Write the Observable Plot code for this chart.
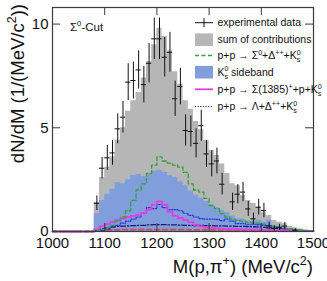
<!DOCTYPE html>
<html><head><meta charset="utf-8">
<script src="https://cdn.jsdelivr.net/npm/d3@7"></script>
<script src="https://cdn.jsdelivr.net/npm/@observablehq/plot@0.6"></script>
<style>body{margin:0;background:#fff} #chart svg{display:block}</style>
</head><body><div id="chart"></div>
<script>
// Invariant-mass spectrum M(p,pi+), 10 MeV/c^2 bins, lower bin edges
const binLow = [1080,1090,1100,1110,1120,1130,1140,1150,1160,1170,1180,1190,1200,1210,
  1220,1230,1240,1250,1260,1270,1280,1290,1300,1310,1320,1330,1340,1350,1360,1370,
  1380,1390,1400,1410,1420,1430,1440,1450,1460,1470,1480,1490];
const binWidth = 10;

// measured yield per bin (null = no entry) and its statistical error
const dataValue = [1.36,3.05,3.55,3.79,4.95,5.51,7.2,7.28,7.79,7.08,8.11,9.29,9.29,8.4,
  8.64,6.4,6.99,4.87,4.82,4.25,5.1,3.74,3.26,3.4,2.28,null,1.43,1.8,1.9,1.09,
  0.61,1.17,1.01,0.27,0.14,0.2,0.26,null,0.06,null,null,null];
const dataError = [0.35,0.52,0.6,0.6,0.72,0.76,0.89,0.89,0.92,0.88,0.95,1.0,1.0,0.95,
  0.96,0.85,0.88,0.75,0.75,0.7,0.75,0.65,0.62,0.62,0.52,null,0.42,0.46,0.47,0.36,
  0.28,0.38,0.35,0.18,0.13,0.15,0.18,null,0.08,null,null,null];

// model components
const sumOfContributions = [1.4,2.6,3.1,3.6,4.4,5.0,5.8,6.3,6.7,7.4,8.2,9.0,9.8,9.4,
  8.7,7.7,7.1,6.3,5.9,5.3,4.9,4.4,3.9,3.66,3.26,2.8,2.3,2.2,1.73,1.5,
  1.35,1.17,0.93,0.77,0.53,0.45,0.37,0.24,0.18,0.12,0.08,0.05];
const k0sSideband = [0.85,1.5,1.8,2.05,2.35,2.3,2.5,2.7,2.75,2.65,2.8,2.9,2.95,2.85,
  2.7,2.6,2.4,2.2,1.95,1.75,1.6,1.45,1.3,1.15,1.0,0.9,0.75,0.62,0.6,0.5,
  0.5,0.55,0.45,0.55,0.3,0.25,0.2,0.15,0.1,0.08,0.05,0.03];
const sigma0DeltaK0 = [0.05,0.1,0.2,0.3,0.5,0.7,1.0,1.5,2.0,2.3,2.8,3.2,3.6,3.4,
  3.3,3.2,3.1,2.85,2.3,2.0,1.9,1.6,1.25,1.1,0.86,0.7,0.6,0.53,0.5,0.45,
  0.42,0.4,0.35,0.3,0.25,0.2,0.15,0.12,0.08,0.05,0.03,0.02];
const sigma1385pK0 = [0.1,0.25,0.35,0.45,0.55,0.62,0.7,0.75,0.8,0.9,1.05,1.3,1.45,1.3,
  0.95,0.75,0.65,0.55,0.45,0.32,0.25,0.2,0.18,0.15,0.13,0.12,0.12,0.11,0.1,0.1,
  0.09,0.09,0.08,0.08,0.07,0.06,0.06,0.05,0.04,0.03,0.02,0.02];
const lambdaDeltaK0 = [0.02,0.05,0.1,0.2,0.3,0.4,0.5,0.6,0.7,0.9,1.15,1.1,1.3,1.15,
  1.05,1.05,1.0,0.88,0.78,0.7,0.62,0.6,0.6,0.58,0.52,0.6,0.5,0.38,0.38,0.35,
  0.35,0.33,0.3,0.28,0.22,0.18,0.14,0.1,0.07,0.05,0.03,0.02];
const otherChannelA = [0.05,0.12,0.18,0.22,0.25,0.26,0.27,0.28,0.3,0.3,0.32,0.33,0.33,0.33,
  0.32,0.32,0.31,0.3,0.3,0.29,0.29,0.28,0.28,0.27,0.27,0.26,0.26,0.25,0.25,0.24,
  0.23,0.22,0.2,0.18,0.16,0.14,0.12,0.09,0.07,0.05,0.03,0.02];
const otherChannelB = [0.03,0.05,0.07,0.08,0.08,0.09,0.09,0.09,0.09,0.09,0.09,0.09,0.09,0.09,
  0.09,0.09,0.09,0.09,0.08,0.08,0.08,0.08,0.08,0.08,0.08,0.07,0.07,0.07,0.07,0.07,
  0.06,0.06,0.06,0.06,0.05,0.05,0.05,0.04,0.04,0.03,0.02,0.02];

const xTicks = [1000,1100,1200,1300,1400,1500];
const yTicks = [0,5,10];
const xDomain = [1000,1500];
const yDomain = [0,10.8];

// step-histogram points: one per lower edge, closing point at the upper edge
function steps(values, lead) {
  const pts = binLow.map((x, i) => ({x, y: values[i]}));
  pts.push({x: binLow[binLow.length-1] + binWidth, y: values[values.length-1]});
  if (lead) pts.unshift({x: xDomain[0], y: 0}, {x: binLow[0], y: 0});
  return pts;
}
const points = binLow.map((lo, i) => ({lo, hi: lo + binWidth, c: lo + binWidth/2, v: dataValue[i], e: dataError[i]}))
  .filter(d => d.v != null);

const W = 327, H = 281, mL = 52, mR = 14, mT = 7, mB = 50;
const innerW = W - mL - mR, innerH = H - mT - mB, tickLen = 8;
const frameColor = "#3a3a3a";

const lineStyles = [
  {values: otherChannelB, stroke: "#d04a4a", strokeWidth: 1.6, strokeDasharray: "5,3"},
  {values: otherChannelA, stroke: "#1a1a70", strokeWidth: 1.3, strokeDasharray: "5,2,1.5,2"},
  {values: lambdaDeltaK0, stroke: "#2a36d6", strokeWidth: 1.2, strokeDasharray: "1.2,1.4"},
  {values: sigma1385pK0, stroke: "#e23ee6", strokeWidth: 1.8, strokeDasharray: null},
  {values: sigma0DeltaK0, stroke: "#35a03a", strokeWidth: 1.3, strokeDasharray: "4,2.5"}
];

const svg = Plot.plot({
  width: W, height: H,
  marginLeft: mL, marginRight: mR, marginTop: mT, marginBottom: mB,
  x: {domain: xDomain},
  y: {domain: yDomain},
  style: {fontFamily: "'Liberation Sans', Arial, sans-serif", fontSize: "15px", background: "#fff", color: "#111"},
  marks: [
    Plot.areaY(steps(sumOfContributions), {x: "x", y: "y", curve: "step-after", fill: "#b6b6b6"}),
    Plot.areaY(steps(k0sSideband), {x: "x", y: "y", curve: "step-after", fill: "#7f9edb"}),
    ...lineStyles.map(s => Plot.line(steps(s.values, true), {x: "x", y: "y", curve: "step-after",
      stroke: s.stroke, strokeWidth: s.strokeWidth, strokeDasharray: s.strokeDasharray})),
    Plot.ruleX(points, {x: "c", y1: d => d.v - d.e, y2: d => d.v + d.e, stroke: "#111", strokeWidth: 1}),
    Plot.ruleY(points, {y: "v", x1: "lo", x2: "hi", stroke: "#111", strokeWidth: 1}),
    // inward ticks on all four sides
    Plot.tickX(xTicks, {x: d => d, insetTop: innerH - tickLen, stroke: frameColor}),
    Plot.tickX(xTicks, {x: d => d, insetBottom: innerH - tickLen, stroke: frameColor}),
    Plot.tickY(yTicks, {y: d => d, insetRight: innerW - tickLen, stroke: frameColor}),
    Plot.tickY(yTicks, {y: d => d, insetLeft: innerW - tickLen, stroke: frameColor}),
    Plot.axisX({ticks: xTicks, tickSize: 0, tickPadding: 6, label: null, tickFormat: d => String(d)}),
    Plot.axisY({ticks: yTicks, tickSize: 0, tickPadding: 4, label: null}),
    Plot.frame({stroke: frameColor, strokeWidth: 1.2})
  ]
});
document.getElementById("chart").appendChild(svg);

// text with superscripts / stacked super+subscripts
function richText(g, x, y, parts, size, anchor) {
  const t = g.append("text").attr("x", x).attr("y", y).attr("font-size", size)
    .attr("text-anchor", anchor || "start").attr("fill", "#111");
  let cur = 0;
  const small = size * 0.68;
  for (const p of parts) {
    if (typeof p === "string") {
      t.append("tspan").attr("dy", -cur).text(p); cur = 0;
    } else if (p.sup && p.sub) {
      const up = -0.42 * size, down = 0.28 * size;
      t.append("tspan").attr("dy", up - cur).attr("font-size", small).text(p.sup);
      t.append("tspan").attr("dx", -small * 0.556 * p.sup.length).attr("dy", down - up)
        .attr("font-size", small).text(p.sub);
      cur = down;
    } else if (p.sup) {
      const up = -0.42 * size;
      t.append("tspan").attr("dy", up - cur).attr("font-size", small).text(p.sup); cur = up;
    }
  }
  return t;
}

const root = d3.select(svg).append("g")
  .attr("font-family", "'Liberation Sans', Arial, sans-serif");

// axis titles
richText(root, 313, 273, ["M(p,\u03c0", {sup: "+"}, ") (MeV/c", {sup: "2"}, ")"], 18.5, "end");
const yt = root.append("g").attr("transform", "translate(23.5,4) rotate(-90)");
richText(yt, 0, 0, ["dN/dM (1/(MeV/c", {sup: "2"}, "))"], 18.5, "end");

// selection label
richText(root, 70, 30.5, ["\u03a3", {sup: "0"}, "-Cut"], 11.5, "start");

// legend
const lg = root.append("g");
const symX0 = 195, symX1 = 213, txtX = 217.5, fs = 10.5;
const rows = [
  {y: 22.7, kind: "data", label: ["experimental data"]},
  {y: 39.7, kind: "box", fill: "#b6b6b6", label: ["sum of contributions"]},
  {y: 55.5, kind: "line", style: lineStyles[4], label: ["p+p \u2192 \u03a3", {sup: "0"}, "+\u0394", {sup: "++"}, "+K", {sup: "0", sub: "s"}]},
  {y: 72.2, kind: "box", fill: "#7f9edb", label: ["K", {sup: "0", sub: "s"}, " sideband"]},
  {y: 89.3, kind: "line", style: lineStyles[3], label: ["p+p \u2192 \u03a3(1385)", {sup: "+"}, "+p+K", {sup: "0", sub: "s"}]},
  {y: 106.5, kind: "line", style: lineStyles[2], label: ["p+p \u2192 \u039b+\u0394", {sup: "++"}, "+K", {sup: "0", sub: "s"}]}
];
for (const r of rows) {
  if (r.kind === "data") {
    lg.append("line").attr("x1", symX0).attr("x2", symX1).attr("y1", r.y).attr("y2", r.y).attr("stroke", "#111");
    lg.append("line").attr("x1", 204).attr("x2", 204).attr("y1", r.y - 4.5).attr("y2", r.y + 4.5).attr("stroke", "#111");
  } else if (r.kind === "box") {
    lg.append("rect").attr("x", symX0).attr("y", r.y - 6.3).attr("width", symX1 - symX0).attr("height", 12.6).attr("fill", r.fill);
  } else {
    lg.append("line").attr("x1", symX0).attr("x2", symX1).attr("y1", r.y).attr("y2", r.y)
      .attr("stroke", r.style.stroke).attr("stroke-width", r.style.strokeWidth)
      .attr("stroke-dasharray", r.style.strokeDasharray);
  }
  richText(lg, txtX, r.y + 3.7, r.label, fs, "start");
}
</script></body></html>
